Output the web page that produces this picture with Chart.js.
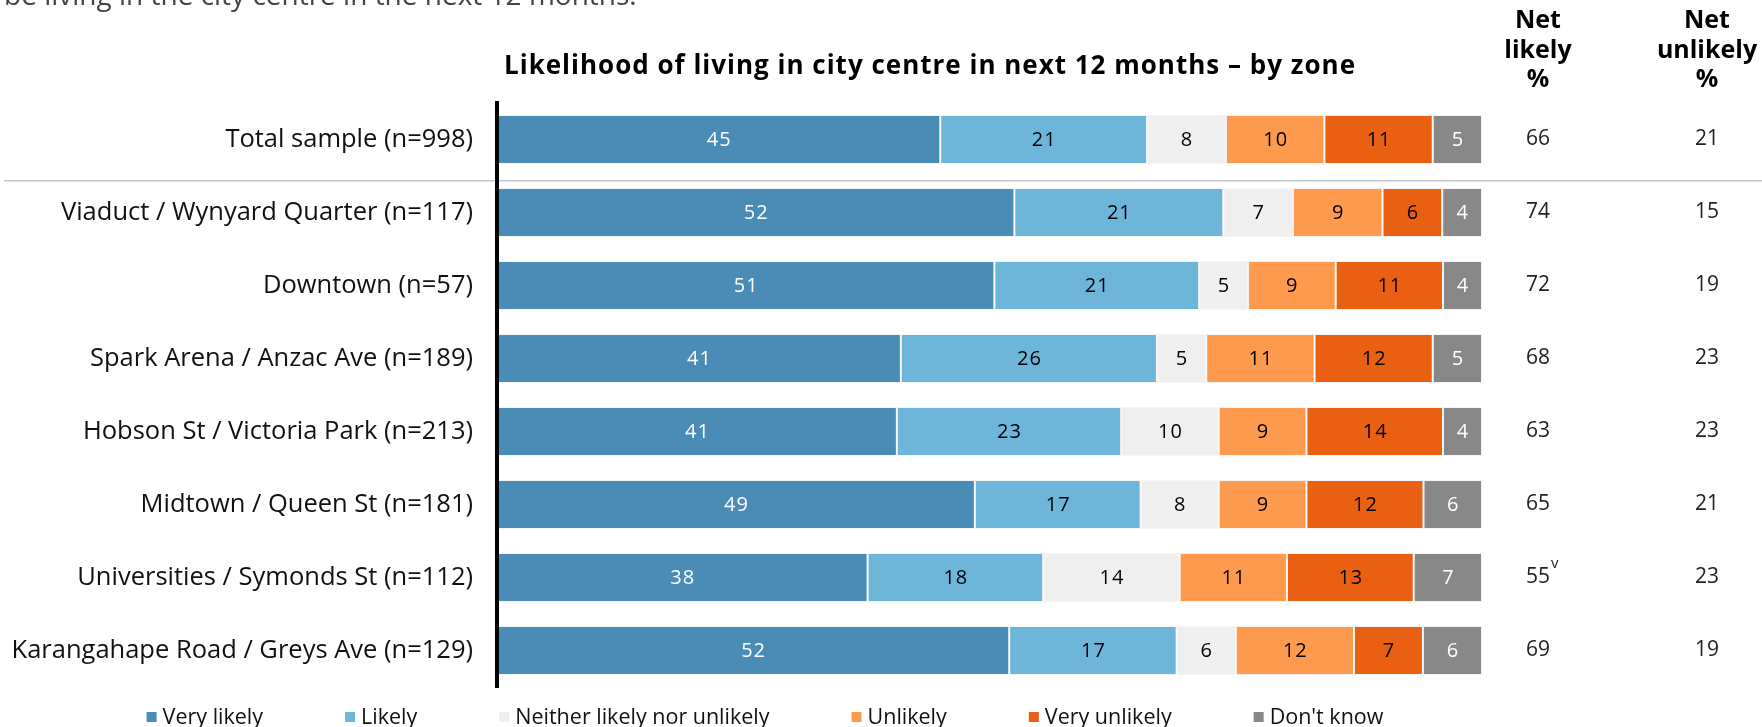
<!DOCTYPE html>
<html>
<head>
<meta charset="utf-8">
<title>Likelihood of living in city centre in next 12 months - by zone</title>
<script src="https://cdn.jsdelivr.net/npm/chart.js@4.4.1/dist/chart.umd.min.js"></script>
<style>
  html, body { margin: 0; padding: 0; background: #fff; }
  #chart { display: block; }
</style>
</head>
<body>
<canvas id="chart" width="1762" height="727"></canvas>
<script>
const ZONES = [
  'Total sample (n=998)',
  'Viaduct / Wynyard Quarter (n=117)',
  'Downtown (n=57)',
  'Spark Arena / Anzac Ave (n=189)',
  'Hobson St / Victoria Park (n=213)',
  'Midtown / Queen St (n=181)',
  'Universities / Symonds St (n=112)',
  'Karangahape Road / Greys Ave (n=129)',
];

// percentages as printed on the bars
const VERY_LIKELY   = [45, 52, 51, 41, 41, 49, 38, 52];
const LIKELY        = [21, 21, 21, 26, 23, 17, 18, 17];
const NEITHER       = [8, 7, 5, 5, 10, 8, 14, 6];
const UNLIKELY      = [10, 9, 9, 11, 9, 9, 11, 12];
const VERY_UNLIKELY = [11, 6, 11, 12, 14, 12, 13, 7];
const DONT_KNOW     = [5, 4, 4, 5, 4, 6, 7, 6];

// right hand columns
const NET_LIKELY      = ['66', '74', '72', '68', '63', '65', '55', '69'];
const NET_LIKELY_NOTE = ['', '', '', '', '', '', 'v', ''];
const NET_UNLIKELY    = ['21', '15', '19', '23', '23', '21', '23', '19'];

const SERIES_LABELS = ['Very likely', 'Likely', 'Neither likely nor unlikely', 'Unlikely', 'Very unlikely', "Don't know"];
const SERIES_VALUES = [VERY_LIKELY, LIKELY, NEITHER, UNLIKELY, VERY_UNLIKELY, DONT_KNOW];
const SERIES_COLORS = ['#4a8cb6', '#6db6d9', '#efefef', '#fd9a4e', '#ea6012', '#888888'];
const LABEL_COLORS  = ['#ffffff', '#000000', '#000000', '#000000', '#000000', '#ffffff'];

const FONT = "'Open Sans', 'Noto Sans', sans-serif";

// each row is a 100% stacked bar
const rowTotal = ZONES.map((_, i) => SERIES_VALUES.reduce((s, vals) => s + vals[i], 0));

const decorations = {
  id: 'decorations',
  beforeDatasetsDraw(chart) {
    const ctx = chart.ctx;
    const y = chart.scales.y;
    const y0 = y.getPixelForValue(0);
    const y1 = y.getPixelForValue(1);
    const sepY = y0 + (y1 - y0) * 0.566;
    ctx.save();
    ctx.strokeStyle = '#c6c6c6';
    ctx.lineWidth = 1.5;
    ctx.beginPath();
    ctx.moveTo(4, sepY);
    ctx.lineTo(chart.width, sepY);
    ctx.stroke();
    ctx.restore();
  },
  afterDatasetsDraw(chart) {
    const ctx = chart.ctx;
    ctx.save();
    ctx.font = `400 20px ${FONT}`;
    ctx.letterSpacing = '1px';
    ctx.textAlign = 'center';
    ctx.textBaseline = 'middle';
    chart.data.datasets.forEach((ds, di) => {
      const meta = chart.getDatasetMeta(di);
      meta.data.forEach((bar, i) => {
        ctx.fillStyle = LABEL_COLORS[di];
        ctx.fillText(SERIES_VALUES[di][i], (bar.x + bar.base) / 2 + 0.5, bar.y + 1);
      });
    });
    ctx.restore();
  },
  afterDraw(chart) {
    const ctx = chart.ctx;
    const y = chart.scales.y;
    ctx.save();

    // cut-off intro sentence at the very top
    ctx.fillStyle = '#444';
    ctx.font = `400 28px ${FONT}`;
    ctx.textAlign = 'left';
    ctx.textBaseline = 'alphabetic';
    ctx.fillText('be living in the city centre in the next 12 months.', 4, 5);

    // chart title
    ctx.fillStyle = '#000';
    ctx.font = `700 26px ${FONT}`;
    ctx.letterSpacing = '1px';
    ctx.textAlign = 'center';
    ctx.fillText('Likelihood of living in city centre in next 12 months \u2013 by zone', 930, 74);

    // column headers
    const colL = 1538, colU = 1707;
    ctx.font = `700 25px ${FONT}`;
    ctx.letterSpacing = '0px';
    [['Net', 28], ['likely', 57.5], ['%', 86.5]].forEach(([t, ty]) => ctx.fillText(t, colL, ty));
    [['Net', 28], ['unlikely', 57.5], ['%', 86.5]].forEach(([t, ty]) => ctx.fillText(t, colU, ty));

    // net values
    ctx.font = `400 21px ${FONT}`;
    ctx.fillStyle = '#222';
    ctx.textBaseline = 'middle';
    ZONES.forEach((_, i) => {
      const py = y.getPixelForValue(i);
      ctx.textAlign = 'center';
      ctx.fillText(NET_LIKELY[i], colL, py);
      ctx.fillText(NET_UNLIKELY[i], colU, py);
      if (NET_LIKELY_NOTE[i]) {
        const w = ctx.measureText(NET_LIKELY[i]).width;
        ctx.save();
        ctx.font = `400 15px ${FONT}`;
        ctx.textAlign = 'left';
        ctx.fillText(NET_LIKELY_NOTE[i], colL + w / 2 + 1, py - 14);
        ctx.restore();
      }
    });

    // legend
    ctx.font = `400 21.5px ${FONT}`;
    ctx.textAlign = 'left';
    ctx.textBaseline = 'middle';
    const box = 10, gapText = 6, gapItem = 82, ly = 717;
    const widths = chart.data.datasets.map(ds => box + gapText + ctx.measureText(ds.label).width);
    const total = widths.reduce((a, b) => a + b, 0) + gapItem * (widths.length - 1);
    let lx = 765 - total / 2;
    chart.data.datasets.forEach((ds, di) => {
      ctx.fillStyle = ds.backgroundColor;
      ctx.fillRect(lx, ly - box / 2, box, box);
      ctx.fillStyle = '#111';
      ctx.fillText(ds.label, lx + box + gapText, ly + 1);
      lx += widths[di] + gapItem;
    });

    ctx.restore();
  }
};

new Chart(document.getElementById('chart'), {
  type: 'bar',
  data: {
    labels: ZONES,
    datasets: SERIES_LABELS.map((label, si) => ({
      label,
      data: SERIES_VALUES[si].map((v, i) => v / rowTotal[i] * 100),
      backgroundColor: SERIES_COLORS[si],
      borderColor: 'rgba(225,225,225,0.35)',
      borderWidth: 1,
      borderSkipped: false,
      barPercentage: 0.668,
      categoryPercentage: 1,
    })),
  },
  options: {
    indexAxis: 'y',
    responsive: false,
    animation: false,
    devicePixelRatio: 1,
    layout: { padding: { top: 103, right: 280, bottom: 40, left: 0 } },
    plugins: {
      legend: { display: false },
      tooltip: { enabled: false },
      title: { display: false },
    },
    scales: {
      x: { stacked: true, min: 0, max: 100, display: false },
      y: {
        stacked: true,
        grid: { display: false, drawTicks: false },
        border: { display: true, color: '#000', width: 4, z: 1 },
        ticks: { padding: 24, color: '#111', font: { family: FONT, size: 25.5 } },
        afterFit(scale) { scale.width = 497; },
      },
    },
  },
  plugins: [decorations],
});
</script>
</body>
</html>
